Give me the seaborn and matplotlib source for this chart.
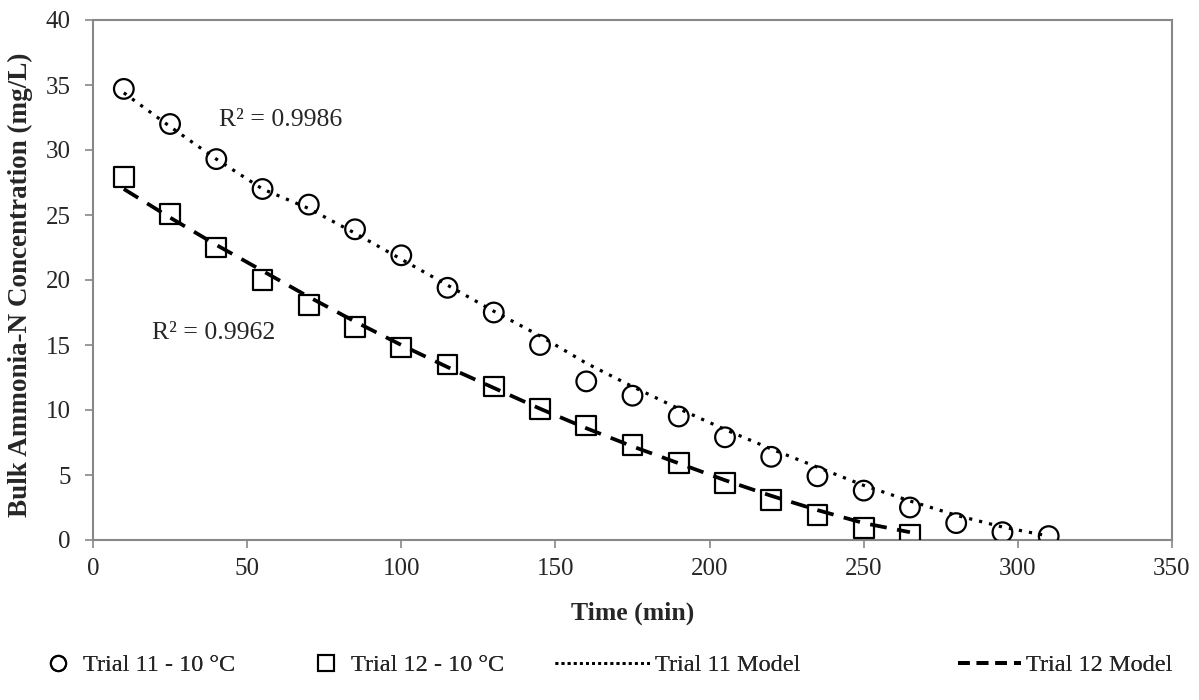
import numpy as np
import pandas as pd
import matplotlib
matplotlib.use("Agg")
import matplotlib.pyplot as plt
import seaborn as sns
from matplotlib.lines import Line2D

time11 = [10, 25, 40, 55, 70, 85, 100, 115, 130, 145, 160, 175, 190, 205, 220, 235, 250, 265, 280, 295, 310]
conc11 = [34.7, 32.0, 29.3, 27.0, 25.8, 23.9, 21.9, 19.4, 17.5, 15.0, 12.2, 11.1, 9.5, 7.9, 6.4, 4.9, 3.8, 2.5, 1.3, 0.6, 0.3]
model11 = [34.4, 31.8, 29.3, 27.0, 25.5, 23.6, 21.6, 19.6, 17.6, 15.7, 13.6, 11.8, 10.1, 8.5, 7.0, 5.6, 4.2, 3.0, 1.9, 1.0, 0.3]

time12 = [10, 25, 40, 55, 70, 85, 100, 115, 130, 145, 160, 175, 190, 205, 220, 235, 250, 265]
conc12 = [27.9, 25.1, 22.5, 20.0, 18.1, 16.4, 14.8, 13.5, 11.8, 10.1, 8.8, 7.3, 5.9, 4.4, 3.1, 1.9, 0.9, 0.4]
model12 = [27.0, 24.8, 22.7, 20.7, 18.7, 16.8, 15.0, 13.3, 11.7, 10.1, 8.6, 7.2, 5.9, 4.6, 3.4, 2.3, 1.3, 0.6]

labels = ["Trial 11 - 10 °C", "Trial 12 - 10 °C", "Trial 11 Model", "Trial 12 Model"]
r2_texts = ["R² = 0.9986", "R² = 0.9962"]

sns.set_theme(style="white")
plt.rcParams['font.family'] = ['Liberation Serif', 'DejaVu Serif']

W, H = 1199, 700
fig = plt.figure(figsize=(W / 100, H / 100), dpi=100)
ax = fig.add_axes([93 / W, 1 - 540 / H, (1172 - 93) / W, (540 - 20) / H])

d11 = pd.DataFrame({"t": time11, "c": conc11, "m": model11})
d12 = pd.DataFrame({"t": time12, "c": conc12, "m": model12})

dot_style = (0, (1, 2.2))
dash_style = (0, (4.5, 2.8))

sns.lineplot(data=d11, x="t", y="m", ax=ax, color="black", linestyle=dot_style, linewidth=2.3, zorder=3)
sns.lineplot(data=d12, x="t", y="m", ax=ax, color="black", linestyle=dash_style, linewidth=2.7, zorder=3)
sns.scatterplot(data=d11, x="t", y="c", ax=ax, marker="o", s=200, facecolors="none",
                edgecolor="black", linewidth=1.6, zorder=4)
sns.scatterplot(data=d12, x="t", y="c", ax=ax, marker="s", s=200, facecolors="none",
                edgecolor="black", linewidth=1.6, zorder=4)

ax.set_xlim(0, 350)
ax.set_ylim(0, 40)
ax.set_xticks(np.arange(0, 351, 50))
ax.set_yticks(np.arange(0, 41, 5))
ax.tick_params(axis="both", which="both", direction="out", length=6, width=1.2,
               color="#888888", labelsize=18, bottom=True, left=True)
ax.tick_params(axis="y", pad=10)
ax.tick_params(axis="x", pad=7)
for s in ["top", "right", "left", "bottom"]:
    ax.spines[s].set_color("#888888")
    ax.spines[s].set_linewidth(1.5)
ax.set_xlabel("Time (min)", fontsize=18.5, fontweight="bold")
ax.set_ylabel("Bulk Ammonia-N Concentration (mg/L)", fontsize=19.5, fontweight="bold")
ax.xaxis.set_label_coords(0.5, -0.119)
ax.yaxis.set_label_coords(-0.0556, 0.491)

ax.text(41, 32.3, r2_texts[0], fontsize=18.5, va="center", ha="left")
ax.text(19, 15.9, r2_texts[1], fontsize=18.5, va="center", ha="left")

handles = [
    Line2D([], [], marker="o", linestyle="none", markersize=11, markerfacecolor="none",
           markeredgecolor="black", markeredgewidth=1.5),
    Line2D([], [], marker="s", linestyle="none", markersize=12, markerfacecolor="none",
           markeredgecolor="black", markeredgewidth=1.5),
    Line2D([], [], color="black", linestyle=(0, (1, 1.2)), linewidth=2),
    Line2D([], [], color="black", linestyle=(0, (3, 1.8)), linewidth=2.8),
]
# (handle left px, handle length em, text pad em)
specs = [(47, 0.9, 0.6), (315, 0.9, 0.6), (555, 3.9, 0.2), (958, 2.6, 0.2)]
y_leg = 1 - 665 / H
for h, lab, (xl, hl, tp) in zip(handles, labels, specs):
    leg = fig.legend([h], [lab], loc="center left", bbox_to_anchor=(xl / W, y_leg),
                     frameon=False, fontsize=17.5, handlelength=hl, handletextpad=tp,
                     borderpad=0, borderaxespad=0)
    fig.add_artist(leg)

fig.savefig("out.png", dpi=100)
